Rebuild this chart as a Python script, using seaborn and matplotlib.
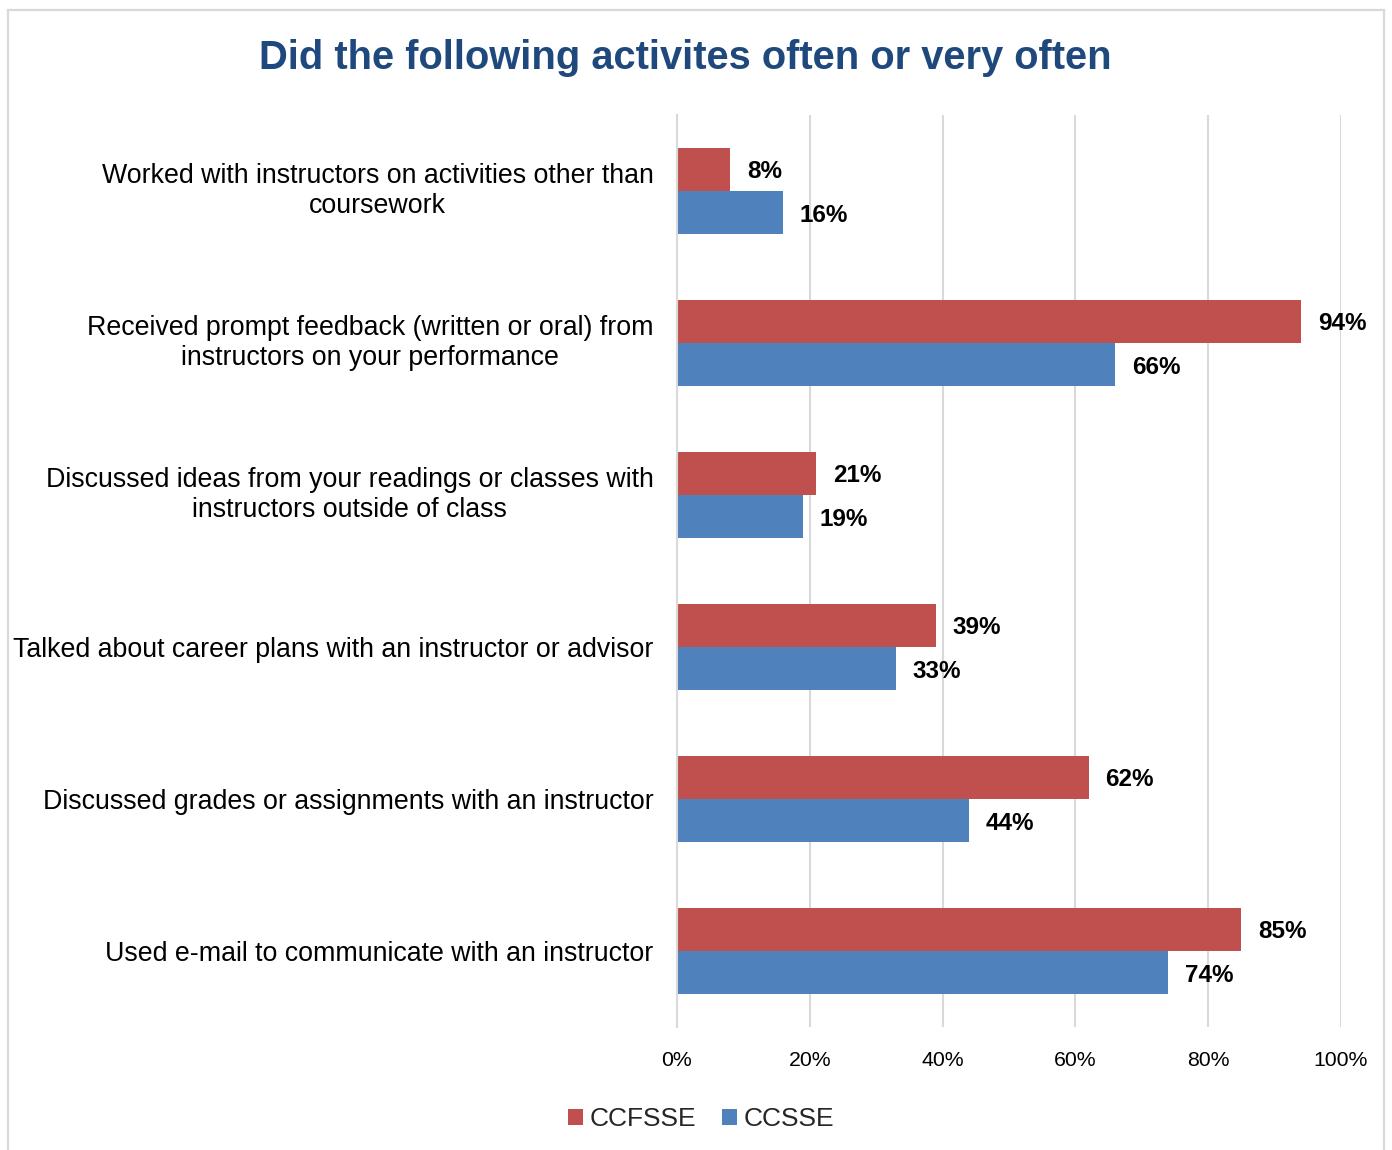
import matplotlib
matplotlib.use("Agg")
import matplotlib.pyplot as plt
from matplotlib.patches import Rectangle
from matplotlib.ticker import FuncFormatter
import seaborn as sns
import pandas as pd

# Survey items (top to bottom)
activities = [
    "Worked with instructors on activities other than\ncoursework",
    "Received prompt feedback (written or oral) from\ninstructors on your performance",
    "Discussed ideas from your readings or classes with\ninstructors outside of class",
    "Talked about career plans with an instructor or advisor",
    "Discussed grades or assignments with an instructor",
    "Used e-mail to communicate with an instructor",
]
series_names = ["CCFSSE", "CCSSE"]
ccfsse = [8, 94, 21, 39, 62, 85]
ccsse = [16, 66, 19, 33, 44, 74]
x_ticks = [0, 20, 40, 60, 80, 100]

colors = {"CCFSSE": "#C0504D", "CCSSE": "#4F81BD"}

df = pd.DataFrame({
    "activity": activities * 2,
    "survey": [series_names[0]] * len(activities) + [series_names[1]] * len(activities),
    "pct": ccfsse + ccsse,
})

sns.set_theme(style="white")
plt.rcParams["font.family"] = ["Liberation Sans", "DejaVu Sans"]

W, H = 1392, 1150
fig = plt.figure(figsize=(W / 100, H / 100), dpi=100)
ax = fig.add_axes([677 / W, 1 - 1027 / H, (1341 - 677) / W, (1027 - 115) / H])

sns.barplot(
    data=df, y="activity", x="pct", hue="survey", order=activities,
    hue_order=series_names, palette=colors, saturation=1, orient="h",
    width=0.57, linewidth=0, ax=ax, legend=True,
)

for cont in ax.containers:
    vals = [b.get_width() for b in cont]
    texts = ax.bar_label(cont, labels=[f"{v:.0f}%" for v in vals], padding=12,
                         fontsize=17.5, fontweight="bold", color="black")
    for t in texts:
        t.set_va("center_baseline")

ax.set_xlim(0, 100)
ax.set_xticks(x_ticks)
ax.xaxis.set_major_formatter(FuncFormatter(lambda v, _: f"{v:.0f}%"))
ax.grid(axis="x", color="#D9D9D9", linewidth=1.5)
ax.set_axisbelow(True)
for side in ["top", "right", "bottom"]:
    ax.spines[side].set_visible(False)
ax.spines["left"].set_color("#D9D9D9")
ax.spines["left"].set_linewidth(1.5)
ax.set_xlabel("")
ax.set_ylabel("")
ax.tick_params(axis="x", length=0, pad=17, labelsize=15.3, labelcolor="black")
ax.tick_params(axis="y", length=0, pad=17, labelsize=19.3, labelcolor="black")
for lbl in ax.get_yticklabels():
    lbl.set_multialignment("center")
    lbl.set_linespacing(1.2)
    if "\n" in lbl.get_text():
        lbl.set_va("center")

handles, labels = ax.get_legend_handles_labels()
ax.get_legend().remove()
fig.legend(handles, labels, loc="center", bbox_to_anchor=(701 / W, 1 - 1119 / H),
           ncol=2, frameon=False, fontsize=19, handlelength=0.55, handleheight=0.55,
           handletextpad=0.25, columnspacing=1.0)

fig.text(685 / W, 1 - 58 / H, "Did the following activites often or very often",
         ha="center", va="center", fontsize=28.7, fontweight="bold", color="#1F497D")

# outer chart frame
fig.patches.append(Rectangle((8 / W, -0.05), (1384 - 8) / W, 1.05 - 10 / H,
                             transform=fig.transFigure, fill=False,
                             edgecolor="#D9D9D9", linewidth=1.6))

fig.savefig("out.png", dpi=100, facecolor="white")
